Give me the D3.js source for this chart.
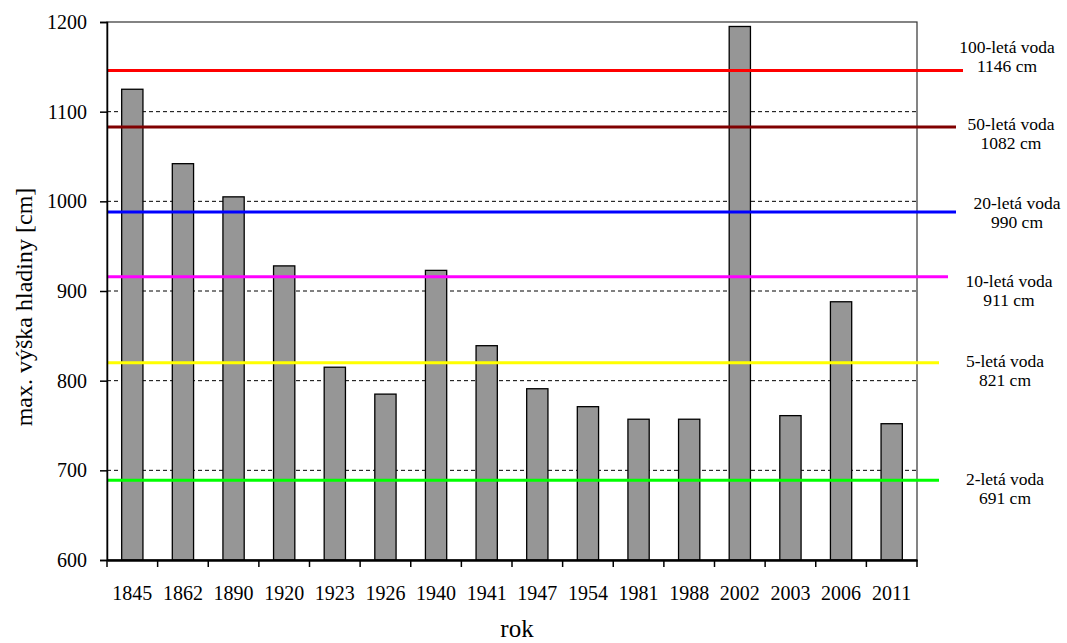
<!DOCTYPE html>
<html><head><meta charset="utf-8">
<script src="https://cdn.jsdelivr.net/npm/d3@7"></script>
<style>body{margin:0;background:#fff}svg{display:block}svg text{font-family:'Liberation Serif',serif !important;fill:#000}</style>
</head><body>
<svg id="c" width="1067" height="643"></svg>
<script>
const years = ["1845","1862","1890","1920","1923","1926","1940","1941","1947","1954","1981","1988","2002","2003","2006","2011"];
const levels = [1125,1042,1005,928,815,785,923,839,791,771,757,757,1195,761,888,752];
const yTicks = [600,700,800,900,1000,1100,1200];
const refNames = ["100-letá voda","50-letá voda","20-letá voda","10-letá voda","5-letá voda","2-letá voda"];
const refLabels = ["1146 cm","1082 cm","990 cm","911 cm","821 cm","691 cm"];
const refValues = [1146,1083,988,916,820,689];
const refColors = ["#ff0000","#800000","#0000ff","#ff00ff","#ffff00","#00ff00"];

const FF = "'Liberation Serif', serif";
const svg = d3.select("#c");
const L=107, R=917, T=22, B=560;
const x = d3.scaleBand().domain(years).range([L,R]);
const y = d3.scaleLinear().domain([600,1200]).range([B,T]);

// gridlines
svg.append("g").selectAll("line").data(yTicks.filter(v=>v>600&&v<1200)).join("line")
  .attr("x1",L).attr("x2",R).attr("y1",d=>y(d)).attr("y2",d=>y(d))
  .attr("stroke","#000").attr("stroke-width",1).attr("stroke-dasharray","4,3");

// frame
svg.append("rect").attr("x",L).attr("y",T).attr("width",R-L).attr("height",B-T)
  .attr("fill","none").attr("stroke","#333").attr("stroke-width",1.2);

// bars
const bw = x.bandwidth()*0.42;
svg.append("g").selectAll("rect").data(years).join("rect")
  .attr("x",(d)=>x(d)+(x.bandwidth()-bw)/2)
  .attr("y",(d,i)=>y(levels[i]))
  .attr("width",bw)
  .attr("height",(d,i)=>y(600)-y(levels[i]))
  .attr("fill","#969696").attr("stroke","#000").attr("stroke-width",1.3);

// reference lines
const lineEnds=[963,956,956,948,939,939];
const labelX=[1007,1011,1017,1009,1005,1005];
const labelY=[53,130,209,287,367,485];
refValues.forEach((v,i)=>{
  svg.append("line").attr("x1",L).attr("x2",lineEnds[i]).attr("y1",y(v)).attr("y2",y(v))
    .attr("stroke",refColors[i]).attr("stroke-width",3);
  const t = svg.append("text").attr("text-anchor","middle").attr("font-size",17.5).attr("font-family",FF);
  t.append("tspan").attr("x",labelX[i]).attr("y",labelY[i]).text(refNames[i]);
  t.append("tspan").attr("x",labelX[i]).attr("y",labelY[i]+19).text(refLabels[i]);
});

// y axis
const ya = svg.append("g").attr("transform",`translate(${L},0)`)
  .call(d3.axisLeft(y).tickValues(yTicks).tickSize(7).tickPadding(13).tickFormat(d3.format("d")));
ya.attr("font-family",FF);
ya.select(".domain").attr("stroke","#000").attr("stroke-width",1.5);
ya.selectAll(".tick line").attr("stroke","#000").attr("stroke-width",1.5);
ya.selectAll("text").attr("font-size",20).attr("font-family",FF).attr("fill","#000");

// x axis
const xa = svg.append("g").attr("transform",`translate(0,${B})`)
  .call(d3.axisBottom(x).tickSize(0).tickPadding(26));
xa.attr("font-family",FF);
xa.select(".domain").attr("stroke","#000").attr("stroke-width",2.5);
xa.selectAll("text").attr("font-size",20).attr("font-family",FF).attr("fill","#000");
// boundary ticks
const bounds = years.map(d=>x(d)).concat([R]);
svg.append("g").selectAll("line").data(bounds).join("line")
  .attr("x1",d=>d).attr("x2",d=>d).attr("y1",B).attr("y2",B+7)
  .attr("stroke","#000").attr("stroke-width",1.5);

// titles
svg.append("text").attr("x",517).attr("y",637).attr("text-anchor","middle").attr("font-size",25).attr("font-family",FF).text("rok");
svg.append("text").attr("transform","translate(32,307) rotate(-90)").attr("text-anchor","middle").attr("font-size",24).attr("font-family",FF).text("max. výška hladiny [cm]");
</script>
</body></html>
